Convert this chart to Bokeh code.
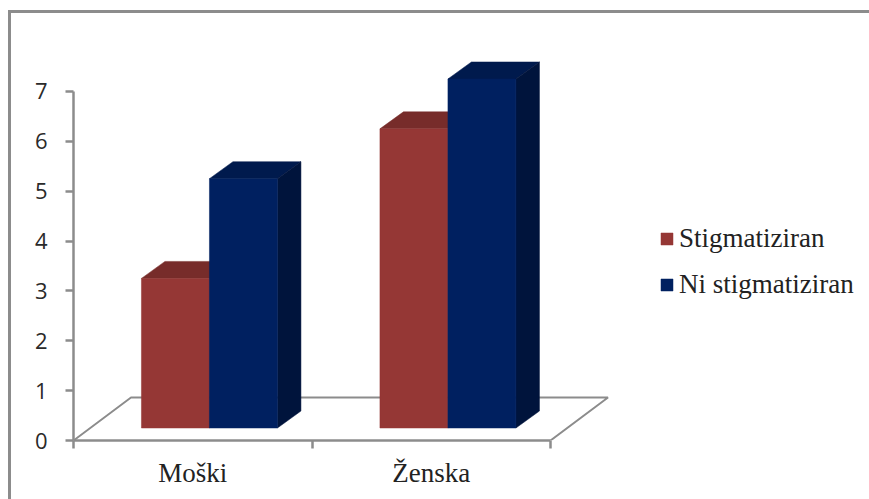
from bokeh.embed import file_html
from bokeh.models import FixedTicker, InlineStyleSheet, Legend, LegendItem, Range1d
from bokeh.plotting import figure
from bokeh.resources import INLINE

categories = ["Moški", "Ženska"]
series_names = ["Stigmatiziran", "Ni stigmatiziran"]
stigmatized = [3, 6]
not_stigmatized = [5, 7]
y_ticks = [0, 1, 2, 3, 4, 5, 6, 7]

FRONT = ["#953735", "#002060"]
TOP = ["#772c2a", "#001a4d"]
SIDE = ["#5f2322", "#00143c"]
AXIS_GREY = "#8c8c8c"

# Pseudo-3D layout, in axis units: x is one category per unit, y is the value.
PX_X = 238.5
PX_Y = 49.86
BAR_W = 68 / PX_X
GROUP_SHIFT = 0.07
BASE = 12.5 / PX_Y
DX = 23.5 / PX_X
DY = 17 / PX_Y
FLOOR_DX = 57.5 / PX_X
FLOOR_DY = 43 / PX_Y

LEFT_PX, BOTTOM_PX = 73, 59
W, H = 869, 499

# Frame around the whole chart, running off the page on the right and at the bottom
frame_css = InlineStyleSheet(css=f"""
:host::after {{
  content: "";
  position: absolute;
  left: 8px; top: 10px; width: {W + 20}px; height: {H + 20}px;
  border: 3px solid {AXIS_GREY};
  pointer-events: none;
}}
""")

p = figure(
    width=W, height=H, output_backend="svg", toolbar_location=None,
    min_border_left=LEFT_PX, min_border_bottom=BOTTOM_PX, min_border_top=0, min_border_right=0,
    x_range=Range1d(0, (W - LEFT_PX) / PX_X),
    y_range=Range1d(0, (H - BOTTOM_PX) / PX_Y),
    outline_line_color=None,
    stylesheets=[frame_css],
)
p.grid.visible = False

# Floor of the chart box
p.line(
    [0, FLOOR_DX, len(categories) + FLOOR_DX, len(categories)],
    [0, FLOOR_DY, FLOOR_DY, 0],
    line_color=AXIS_GREY, line_width=2,
)

front_renderers = []
for i in range(len(categories)):
    for j, values in enumerate([stigmatized, not_stigmatized]):
        left = i + 0.5 + GROUP_SHIFT + (j - 1) * BAR_W
        right = left + BAR_W
        top = BASE + values[i]
        p.patch([left, left + DX, right + DX, right], [top, top + DY, top + DY, top],
                fill_color=TOP[j], line_color=TOP[j], line_width=0.5)
        p.patch([right, right + DX, right + DX, right], [BASE, BASE + DY, top + DY, top],
                fill_color=SIDE[j], line_color=SIDE[j], line_width=0.5)
        r = p.quad(left=left, right=right, bottom=BASE, top=top,
                   fill_color=FRONT[j], line_color=FRONT[j], line_width=0.5)
        if i == 0:
            front_renderers.append(r)

p.yaxis.bounds = (0, 7)
p.yaxis.ticker = FixedTicker(ticks=y_ticks)
p.yaxis.minor_tick_line_color = None
p.yaxis.major_tick_in = 0
p.yaxis.major_tick_out = 8
p.yaxis.major_label_standoff = 18
p.yaxis.major_label_text_font = "Open Sans"
p.yaxis.major_label_text_font_size = "22px"
p.yaxis.major_label_text_color = "#2a2a2a"

# Category names sit between the tick marks, so the marks are the minor ticks.
centers = [i + 0.5 for i in range(len(categories))]
p.xaxis.bounds = (0, len(categories))
p.xaxis.ticker = FixedTicker(ticks=centers, minor_ticks=list(range(len(categories) + 1)))
p.xaxis.major_label_overrides = dict(zip(centers, categories))
p.xaxis.major_tick_line_color = None
p.xaxis.minor_tick_in = 0
p.xaxis.minor_tick_out = 8
p.xaxis.major_label_standoff = 9
p.xaxis.major_label_text_font = "Liberation Serif"
p.xaxis.major_label_text_font_size = "27px"
p.xaxis.major_label_text_color = "#222222"

for ax in (p.xaxis[0], p.yaxis[0]):
    ax.axis_line_color = AXIS_GREY
    ax.axis_line_width = 2.5
    ax.major_tick_line_width = 2.5
    ax.minor_tick_line_width = 2.5
p.xaxis.minor_tick_line_color = AXIS_GREY
p.yaxis.major_tick_line_color = AXIS_GREY

legend = Legend(
    items=[LegendItem(label=n, renderers=[r]) for n, r in zip(series_names, front_renderers)],
    location=(586, 140), border_line_color=None, background_fill_alpha=0,
    padding=0, margin=0, spacing=14, glyph_width=15, glyph_height=15, label_standoff=5,
    label_text_font="Liberation Serif", label_text_font_size="27px", label_text_color="#222222",
    label_height=32,
)
p.add_layout(legend)

open("out.html", "w").write(file_html(p, INLINE))
